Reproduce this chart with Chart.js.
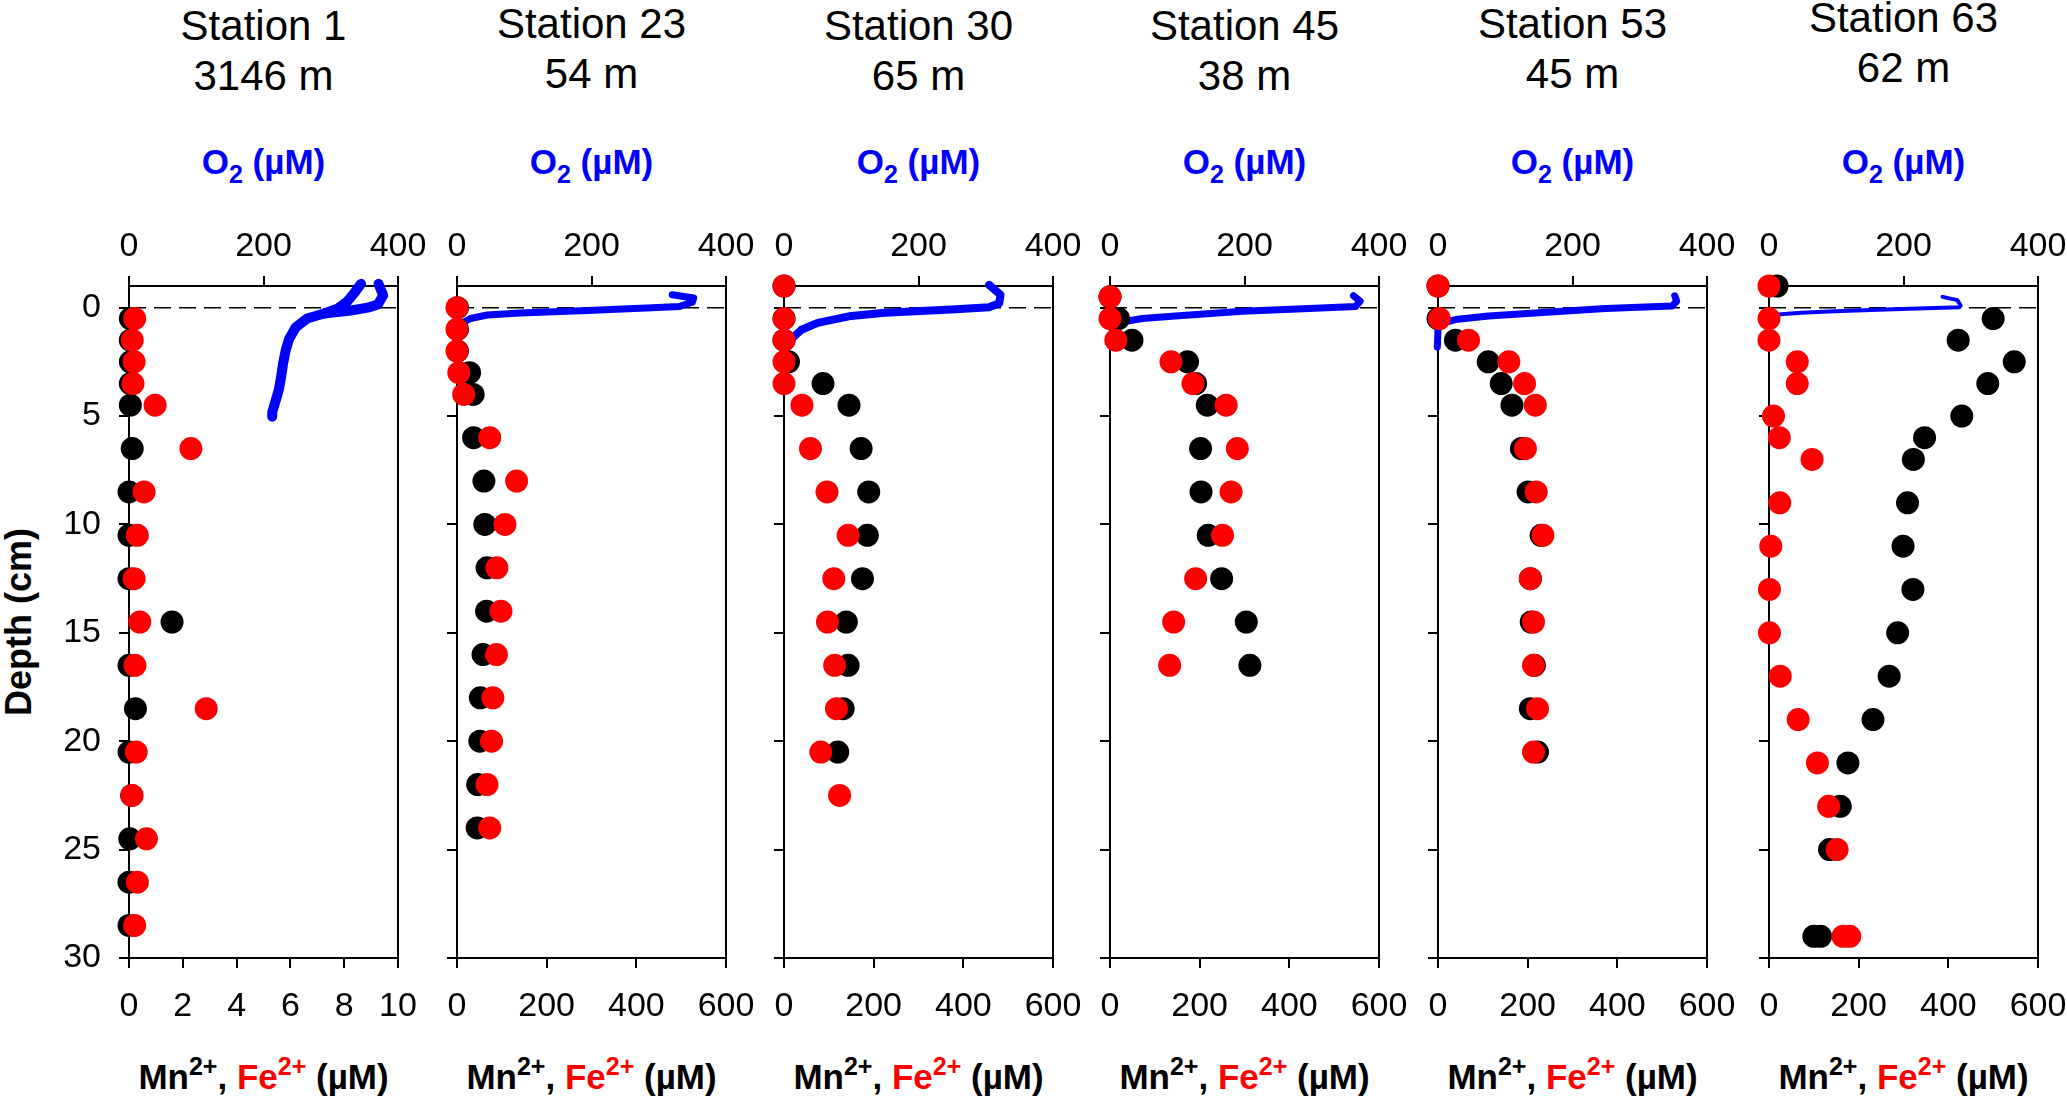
<!DOCTYPE html>
<html lang="en">
<head>
<meta charset="UTF-8">
<title>Porewater Mn2+, Fe2+ and O2 profiles</title>
<script src="https://cdn.jsdelivr.net/npm/chart.js"></script>
<style>
  body { margin: 0; background: #fff; font-family: "Liberation Sans", Arial, sans-serif; }
  #page { position: relative; width: 2067px; height: 1097px; overflow: hidden; }
  canvas { position: absolute; top: 200px; }
  .lbl { position: absolute; width: 269px; text-align: center; white-space: nowrap; color: #000; }
  .station { font-size: 42px; line-height: 50px; }
  .o2 { font-size: 35px; line-height: 40px; font-weight: bold; color: #0000ff; top: 142px; }
  .conc { font-size: 35px; line-height: 40px; font-weight: bold; top: 1057px; }
  .red { color: #ff0000; }
  sub, sup { font-size: 25px; line-height: 0; position: relative; vertical-align: baseline; }
  sub { top: 9px; }
  sup { top: -14px; }
  #depth { position: absolute; left: 19px; top: 622px; font-size: 36px; font-weight: bold;
           white-space: nowrap; transform: translate(-50%, -50%) rotate(-90deg); }
</style>
</head>
<body>
<div id="page">
  <div id="depth">Depth (cm)</div>
</div>

<script>
// ---- data ----
const stationNames = ['Station 1', 'Station 23', 'Station 30', 'Station 45', 'Station 53', 'Station 63'];
const waterDepths = ['3146 m', '54 m', '65 m', '38 m', '45 m', '62 m'];
const concMax = [10, 600, 600, 600, 600, 600];
const concStep = [2, 200, 200, 200, 200, 200];
const o2Ticks = [0, 200, 400];
const depthTicks = [0, 5, 10, 15, 20, 25, 30];

// Station 1
const s1Depth = [0.5, 1.5, 2.5, 3.5, 4.5, 6.5, 8.5, 10.5, 12.5, 14.5, 16.5, 18.5, 20.5, 22.5, 24.5, 26.5, 28.5];
const s1Mn = [0.05, 0.05, 0.05, 0.05, 0.05, 0.12, 0.0, 0.0, 0.0, 1.6, 0.0, 0.24, 0.0, 0.1, 0.03, 0.0, 0.0];
const s1Fe = [0.21, 0.12, 0.19, 0.15, 0.97, 2.3, 0.56, 0.31, 0.19, 0.4, 0.22, 2.87, 0.27, 0.11, 0.65, 0.31, 0.21];
const s1O2Depth = [-1.1, -0.57, -0.15, 0.0, 0.13, 0.27, 0.5, 0.9, 1.44, 1.97, 2.6, 3.23, 3.76, 4.3, 4.82, 5.03];
const s1O2 = [371, 378, 370, 355, 330, 290, 265, 248, 238, 233, 229, 226, 223, 218, 213, 213];
const s1O2bDepth = [-1.1, -0.68, -0.3, 0.05, 0.27];
const s1O2b = [345, 335, 325, 310, 290];

// Station 23
const s23Depth = [0, 1, 2, 3, 4, 6, 8, 10, 12, 14, 16, 18, 20, 22, 24];
const s23Mn = [1, 1, 1, 28, 36, 37, 60, 62, 67, 66, 58, 52, 51, 46, 45];
const s23Fe = [0, 0, 0, 4, 15, 73, 133, 107, 89, 98, 88, 80, 77, 67, 73];
const s23O2Depth = [-0.6, -0.45, -0.25, -0.05, 0.0, 0.13, 0.25, 0.34, 0.5, 0.72];
const s23O2 = [320, 352, 350, 330, 290, 194, 94, 45, 20, 7];

// Station 30
const s30Depth = [-1, 0.5, 1.5, 2.5, 3.5, 4.5, 6.5, 8.5, 10.5, 12.5, 14.5, 16.5, 18.5, 20.5, 22.5];
const s30Mn = [0, 0, 0, 10, 87, 145, 172, 189, 186, 175, 139, 143, 132, 120, null];
const s30Fe = [0, 0, 0, 0, 0, 40, 59, 96, 143, 111, 97, 113, 117, 82, 124];
const s30O2Depth = [-1.05, -0.6, -0.2, -0.02, 0.08, 0.23, 0.38, 0.7, 1.02, 1.44, 1.82];
const s30O2 = [305, 322, 320, 305, 249, 150, 100, 50, 26, 11, 3];

// Station 45
const s45Depth = [-0.5, 0.5, 1.5, 2.5, 3.5, 4.5, 6.5, 8.5, 10.5, 12.5, 14.5, 16.5];
const s45Mn = [0, 19, 49, 173, 191, 217, 202, 203, 219, 249, 304, 312];
const s45Fe = [0, 0, 13, 136, 185, 259, 284, 270, 251, 191, 142, 133];
const s45O2Depth = [-0.55, -0.3, -0.05, 0.04, 0.17, 0.38, 0.5, 0.66, 0.9];
const s45O2 = [362, 372, 365, 296, 197, 97, 48, 18, 5];

// Station 53
const s53Depth = [-1, 0.5, 1.5, 2.5, 3.5, 4.5, 6.5, 8.5, 10.5, 12.5, 14.5, 16.5, 18.5, 20.5];
const s53Mn = [0, 0, 39, 112, 141, 165, 186, 201, 230, 206, 208, 215, 206, 222];
const s53Fe = [0, 3, 68, 158, 193, 217, 195, 219, 234, 206, 213, 213, 222, 213];
const s53O2Depth = [-0.55, -0.3, -0.08, 0.04, 0.23, 0.38, 0.55, 0.72, 0.97, 1.82];
const s53O2 = [352, 355, 348, 249, 150, 75, 26, 6, 0, -1];

// Station 63
const s63Depth = [-1, 0.5, 1.5, 2.5, 3.5, 5, 6, 7, 9, 11, 13, 15, 17, 19, 21, 23, 25, 29, 29];
const s63Mn = [18, 500, 422, 547, 488, 430, 347, 322, 309, 299, 321, 287, 268, 232, 176, 159, 135, 100, 115];
const s63Fe = [0, 0, 0, 63, 63, 10, 23, 96, 24, 4, 1, 1, 25, 65, 108, 133, 152, 165, 180];
const s63O2Depth = [-0.5, -0.35, -0.1, -0.02, 0.06, 0.17, 0.23, 0.3, 0.36];
const s63O2 = [258, 280, 285, 283, 197, 97, 48, 18, 3];

const stations = [
  { depth: s1Depth, mn: s1Mn, fe: s1Fe, o2: [[s1O2Depth, s1O2], [s1O2bDepth, s1O2b]] },
  { depth: s23Depth, mn: s23Mn, fe: s23Fe, o2: [[s23O2Depth, s23O2]] },
  { depth: s30Depth, mn: s30Mn, fe: s30Fe, o2: [[s30O2Depth, s30O2]] },
  { depth: s45Depth, mn: s45Mn, fe: s45Fe, o2: [[s45O2Depth, s45O2]] },
  { depth: s53Depth, mn: s53Mn, fe: s53Fe, o2: [[s53O2Depth, s53O2]] },
  { depth: s63Depth, mn: s63Mn, fe: s63Fe, o2: [[s63O2Depth, s63O2]] }
];

// ---- layout ----
const panelLeft = [129, 457, 784, 1110, 1438, 1769];
const titleTop = [1, -1, 1, 1, -1, -7];
const o2Width = [10, 7, 8, 7, 7, 4];
const AXIS_W = 90, TOP_H = 86, BOT_H = 72, PAD_R = 39, PLOT_W = 269, PLOT_H = 672;
const tickFont = { family: 'Liberation Sans', size: 34 };

const page = document.getElementById('page');

// dashed sediment-water interface and the right-hand frame line
const frame = {
  id: 'frame',
  beforeDatasetsDraw(chart) {
    const { ctx, chartArea: a, scales } = chart;
    const y0 = scales.y.getPixelForValue(0);
    ctx.save();
    ctx.strokeStyle = '#000';
    ctx.lineWidth = 1.5;
    ctx.setLineDash([17, 8]);
    ctx.beginPath();
    ctx.moveTo(a.left, y0);
    ctx.lineTo(a.right, y0);
    ctx.stroke();
    ctx.restore();
  },
  afterDraw(chart) {
    const { ctx, chartArea: a } = chart;
    ctx.save();
    ctx.strokeStyle = '#000';
    ctx.lineWidth = 2;
    ctx.beginPath();
    ctx.moveTo(a.right, a.top - 1);
    ctx.lineTo(a.right, a.bottom + 1);
    ctx.stroke();
    ctx.restore();
  }
};

function pts(depths, vals) {
  return depths.map((d, k) => ({ x: vals[k], y: d })).filter(p => p.x !== null);
}

function addLabels(i) {
  const t = document.createElement('div');
  t.className = 'lbl station';
  t.style.left = panelLeft[i] + 'px';
  t.style.top = titleTop[i] + 'px';
  t.innerHTML = stationNames[i] + '<br>' + waterDepths[i];
  page.appendChild(t);

  const o = document.createElement('div');
  o.className = 'lbl o2';
  o.style.left = panelLeft[i] + 'px';
  o.innerHTML = 'O<sub>2</sub> (µM)';
  page.appendChild(o);

  const c = document.createElement('div');
  c.className = 'lbl conc';
  c.style.left = panelLeft[i] + 'px';
  c.innerHTML = 'Mn<sup>2+</sup>, <span class="red">Fe<sup>2+</sup></span> (µM)';
  page.appendChild(c);
}

function makePanel(i) {
  const st = stations[i];
  const canvas = document.createElement('canvas');
  canvas.width = AXIS_W + PLOT_W + PAD_R;
  canvas.height = TOP_H + PLOT_H + BOT_H;
  canvas.style.left = (panelLeft[i] - AXIS_W) + 'px';
  canvas.style.width = canvas.width + 'px';
  canvas.style.height = canvas.height + 'px';
  page.appendChild(canvas);

  const datasets = [
    {
      label: 'Fe2+', data: pts(st.depth, st.fe), xAxisID: 'x', yAxisID: 'y',
      pointRadius: 11.5, pointBorderWidth: 0, pointBackgroundColor: '#ff0000',
      showLine: false, clip: false, order: 1
    },
    {
      label: 'Mn2+', data: pts(st.depth, st.mn), xAxisID: 'x', yAxisID: 'y',
      pointRadius: 11.5, pointBorderWidth: 0, pointBackgroundColor: '#000000',
      showLine: false, clip: false, order: 2
    }
  ];
  st.o2.forEach(([d, v]) => {
    datasets.push({
      label: 'O2', data: pts(d, v), xAxisID: 'xo', yAxisID: 'y',
      showLine: true, pointRadius: 0, borderColor: '#0000ff', borderWidth: o2Width[i],
      borderJoinStyle: 'round', borderCapStyle: 'round', tension: 0, clip: false, order: 3
    });
  });

  const axisBits = {
    grid: { drawOnChartArea: false, color: '#000', lineWidth: 2, tickLength: 10 },
    border: { color: '#000', width: 2 }
  };

  new Chart(canvas, {
    type: 'scatter',
    data: { datasets },
    options: {
      responsive: false,
      animation: false,
      devicePixelRatio: 1,
      layout: { padding: { left: 0, top: 0, right: PAD_R, bottom: 0 } },
      plugins: { legend: { display: false }, tooltip: { enabled: false } },
      scales: {
        x: {
          type: 'linear', position: 'bottom', min: 0, max: concMax[i],
          ticks: { stepSize: concStep[i], color: '#000', font: tickFont, padding: 18, maxRotation: 0, autoSkip: false },
          ...axisBits,
          afterFit(s) { s.height = BOT_H; s.paddingLeft = 0; s.paddingRight = 0; }
        },
        xo: {
          type: 'linear', position: 'top', min: 0, max: 400,
          ticks: { color: '#000', font: tickFont, padding: 9, maxRotation: 0, autoSkip: false },
          afterBuildTicks(s) { s.ticks = o2Ticks.map(v => ({ value: v })); },
          ...axisBits,
          afterFit(s) { s.height = TOP_H; s.paddingLeft = 0; s.paddingRight = 0; }
        },
        y: {
          type: 'linear', position: 'left', reverse: true, min: -1, max: 30,
          ticks: { display: i === 0, color: '#000', font: tickFont, padding: 18, autoSkip: false },
          afterBuildTicks(s) { s.ticks = depthTicks.map(v => ({ value: v })); },
          ...axisBits,
          afterFit(s) { s.width = AXIS_W; s.paddingTop = 0; s.paddingBottom = 0; }
        }
      }
    },
    plugins: [frame]
  });
}

stations.forEach((s, i) => { addLabels(i); makePanel(i); });
</script>
</body>
</html>
